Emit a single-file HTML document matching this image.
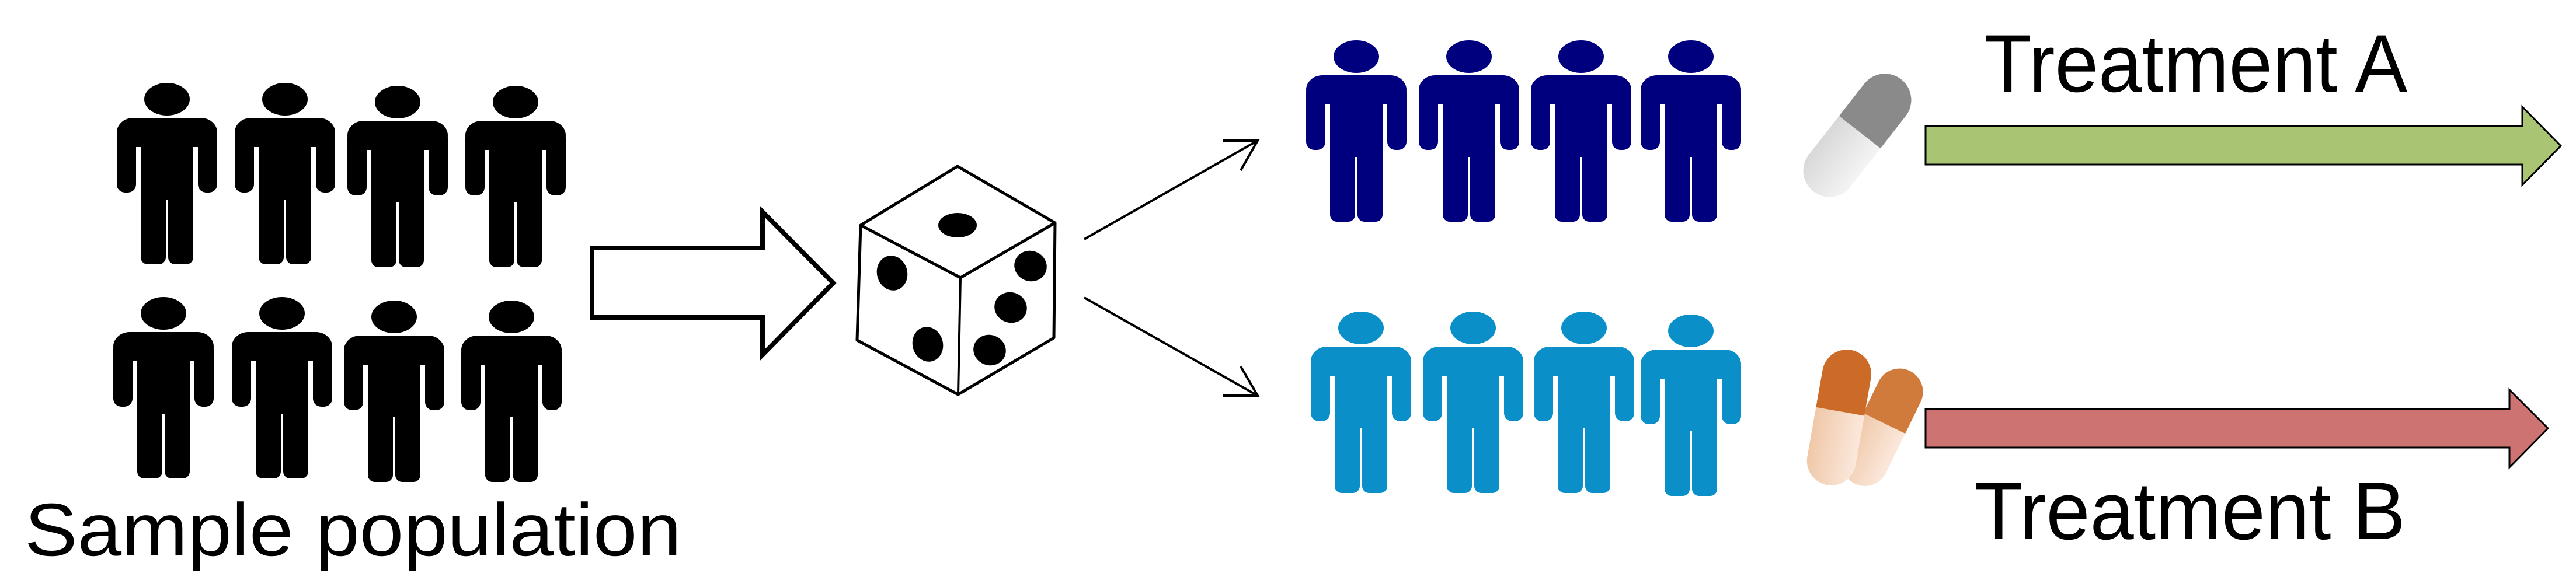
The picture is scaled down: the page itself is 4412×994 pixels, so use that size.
<!DOCTYPE html>
<html><head><meta charset="utf-8"><style>html,body{margin:0;padding:0;background:#fff}svg{display:block}</style></head>
<body>
<svg width="4412" height="994" viewBox="0 0 4412 994" xmlns="http://www.w3.org/2000/svg">
<defs>
<g id="person">
<ellipse cx="86" cy="27" rx="39" ry="28"/>
<rect x="0" y="59" width="172" height="50" rx="28"/>
<rect x="0" y="75" width="33" height="112" rx="14"/>
<rect x="139" y="75" width="33" height="112" rx="14"/>
<rect x="41" y="59" width="90" height="140"/>
<rect x="41" y="150" width="43" height="160" rx="12"/>
<rect x="88" y="150" width="43" height="160" rx="12"/>
</g>
<linearGradient id="gpill" x1="0" y1="0" x2="1" y2="0"><stop offset="0" stop-color="#d8d8d8"/><stop offset="1" stop-color="#f4f4f4"/></linearGradient>
<linearGradient id="opill" x1="0" y1="0" x2="1" y2="0"><stop offset="0" stop-color="#f0c8a8"/><stop offset="1" stop-color="#fbe8dc"/></linearGradient>
</defs>

<g fill="#000">
<use href="#person" x="200" y="143"/><use href="#person" x="402" y="143"/><use href="#person" x="595" y="148"/><use href="#person" x="797" y="148"/>
<use href="#person" x="194" y="510"/><use href="#person" x="397" y="510"/><use href="#person" x="589" y="516"/><use href="#person" x="790" y="516"/>
</g>
<text x="42" y="952" font-family="Liberation Sans, sans-serif" font-size="128" textLength="1125" lengthAdjust="spacingAndGlyphs">Sample population</text>

<polygon points="1014,425 1306,425 1306,363 1427,485 1306,608 1306,544 1014,544" fill="#fff" stroke="#000" stroke-width="8"/>

<g>
<polygon points="1640,285 1807,382 1805,579 1641,676 1468,583 1474,386" fill="#fff" stroke="#000" stroke-width="5" stroke-linejoin="round"/>
<polyline points="1474,386 1645,476 1807,382" fill="none" stroke="#000" stroke-width="5"/>
<line x1="1645" y1="476" x2="1641" y2="676" stroke="#000" stroke-width="4"/>
<ellipse cx="1640" cy="386" rx="33" ry="21"/>
<ellipse cx="1528" cy="468" rx="26" ry="30" transform="rotate(-15 1528 468)"/>
<ellipse cx="1589" cy="590" rx="26" ry="30" transform="rotate(-15 1589 590)"/>
<ellipse cx="1765" cy="456" rx="28" ry="26" transform="rotate(20 1765 456)"/>
<ellipse cx="1731" cy="527" rx="28" ry="26" transform="rotate(20 1731 527)"/>
<ellipse cx="1695" cy="600" rx="28" ry="26" transform="rotate(20 1695 600)"/>
</g>

<g stroke="#000" stroke-width="4" fill="none">
<line x1="1857" y1="410" x2="2154" y2="241"/><polyline points="2094,241 2154,241 2125,292"/>
<line x1="1857" y1="510" x2="2154" y2="678"/><polyline points="2094,678 2154,678 2125,628"/>
</g>

<g fill="#00007f">
<use href="#person" x="2237" y="70"/><use href="#person" x="2430" y="70"/><use href="#person" x="2622" y="70"/><use href="#person" x="2810" y="70"/>
</g>
<g fill="#0a8fc8">
<use href="#person" x="2245" y="535"/><use href="#person" x="2437" y="535"/><use href="#person" x="2627" y="535"/><use href="#person" x="2810" y="540"/>
</g>

<g transform="rotate(38 3181 232)">
<rect x="3136" y="110" width="90" height="244" rx="45" fill="url(#gpill)"/>
<path d="M3136,225 L3136,155 A45,45 0 0 1 3226,155 L3226,225 Z" fill="#8a8a8a"/>
</g>
<g>
<g transform="rotate(26 3225 730)"><rect x="3185" y="625" width="80" height="215" rx="40" fill="url(#opill)"/><path d="M3185,725 L3185,665 A40,40 0 0 1 3265,665 L3265,725 Z" fill="#d07a3c"/></g>
<g transform="rotate(10 3150 715)"><rect x="3108" y="598" width="84" height="235" rx="42" fill="url(#opill)"/><path d="M3108,705 L3108,640 A42,42 0 0 1 3192,640 L3192,705 Z" fill="#cc6a28"/></g>
</g>

<polygon points="3298,216 4320,216 4320,183 4386,250 4320,317 4320,282 3298,282" fill="#a9c574" stroke="#000" stroke-width="3"/>
<polygon points="3298,701 4298,701 4298,668 4364,734 4298,801 4298,767 3298,767" fill="#cd7371" stroke="#000" stroke-width="3"/>

<text x="3398" y="157" font-family="Liberation Sans, sans-serif" font-size="140" textLength="725" lengthAdjust="spacingAndGlyphs">Treatment A</text>
<text x="3382" y="924" font-family="Liberation Sans, sans-serif" font-size="140" textLength="738" lengthAdjust="spacingAndGlyphs">Treatment B</text>
</svg>
</body></html>
